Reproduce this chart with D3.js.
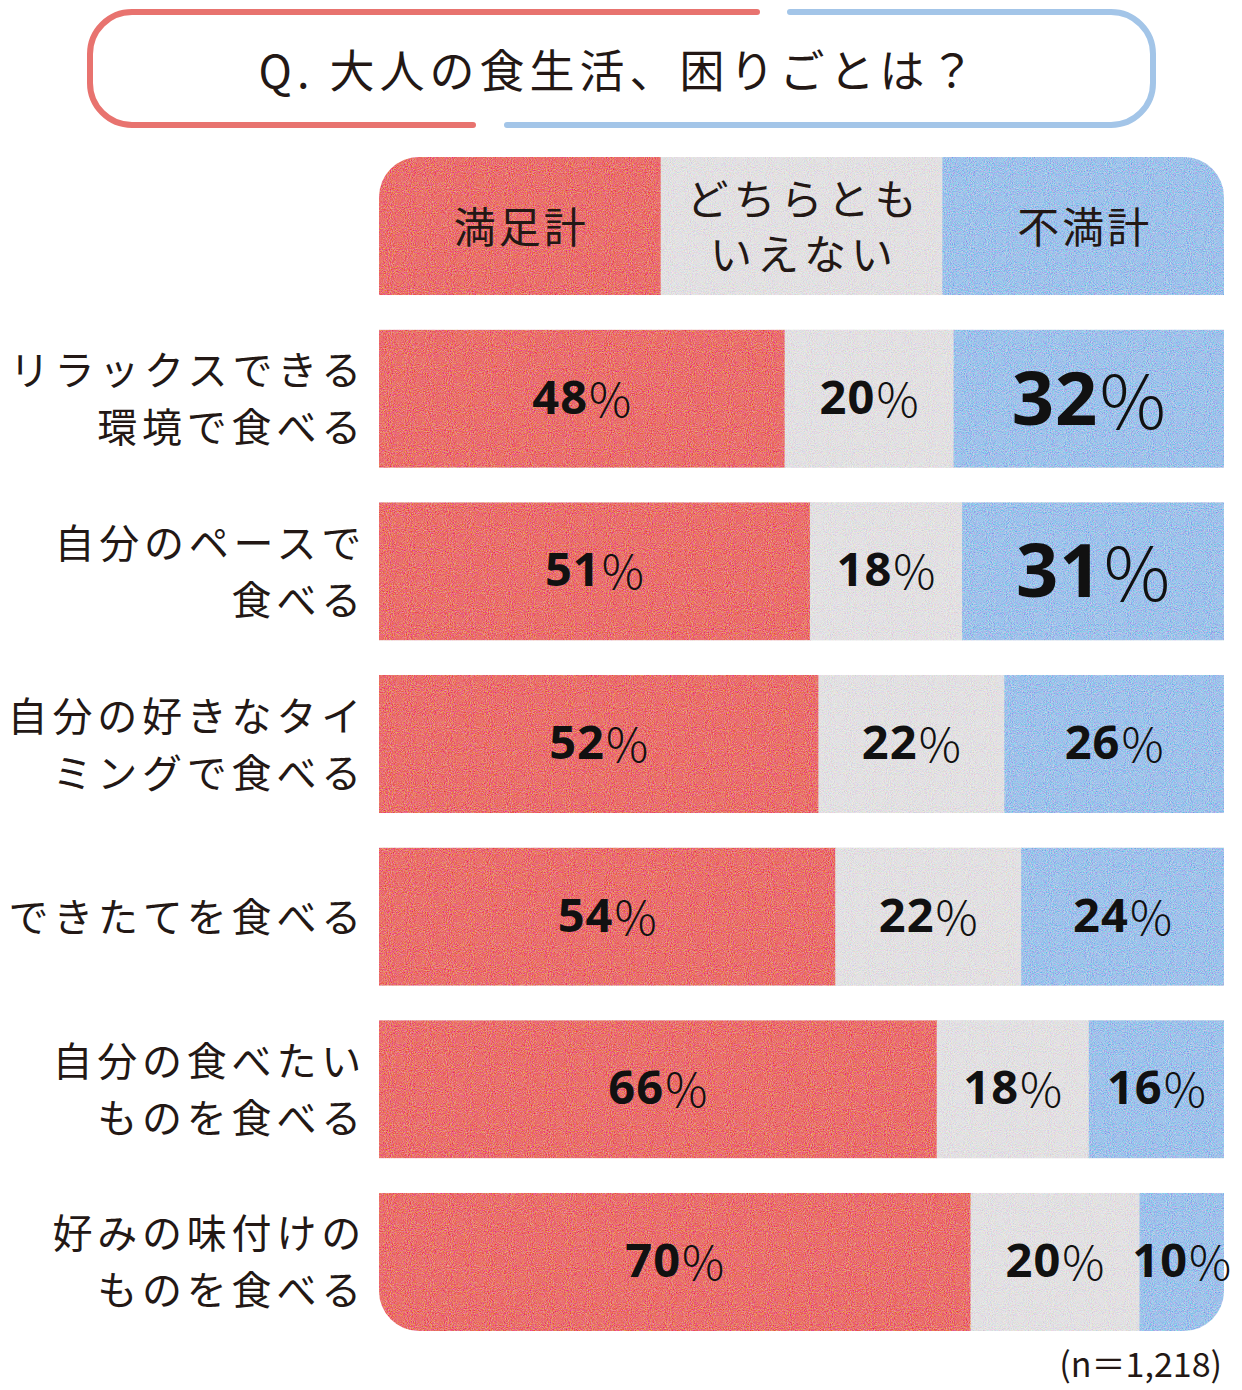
<!DOCTYPE html>
<html><head><meta charset="utf-8">
<script src="https://cdn.jsdelivr.net/npm/d3@7"></script>
<style>
html,body{margin:0;padding:0;background:#fff;}
svg{display:block;}
</style></head>
<body>
<script>
const title = "Q. 大人の食生活、困りごとは？";
const seriesNames = [["満足計"], ["どちらとも","いえない"], ["不満計"]];
const categories = ["リラックスできる環境で食べる","自分のペースで食べる","自分の好きなタイミングで食べる","できたてを食べる","自分の食べたいものを食べる","好みの味付けのものを食べる"];
const categoryLines = [["リラックスできる","環境で食べる"],["自分のペースで","食べる"],["自分の好きなタイ","ミングで食べる"],["できたてを食べる"],["自分の食べたい","ものを食べる"],["好みの味付けの","ものを食べる"]];
const satisfied = [48,51,52,54,66,70];
const neutral = [20,18,22,22,18,20];
const dissatisfied = [32,31,26,24,16,10];
const emphasized = [true,true,false,false,false,false];
const note = "(n＝1,218)";

const W=1242,H=1390;
const colors=["#ea6e6b","#e3e1e3","#9fc3eb"];
const ink="#231815";
const jp="'Noto Sans CJK JP','Noto Sans',sans-serif";
const num="'Noto Sans','DejaVu Sans',sans-serif";

const svg=d3.select("body").append("svg").attr("width",W).attr("height",H);
const defs=svg.append("defs");
const f=defs.append("filter").attr("id","grain").attr("x",0).attr("y",0).attr("width","100%").attr("height","100%");
f.append("feTurbulence").attr("type","fractalNoise").attr("baseFrequency",0.95).attr("numOctaves",2).attr("seed",7).attr("result","n");
f.append("feColorMatrix").attr("in","n").attr("type","matrix")
 .attr("values","1 0 0 0 0  0 1 0 0 0  0 0 1 0 0  0 0 0 0 1").attr("result","nc");
const ct=f.append("feComponentTransfer").attr("in","nc").attr("result","nk");
["feFuncR","feFuncG","feFuncB"].forEach(fn=>ct.append(fn).attr("type","linear").attr("slope",1.7).attr("intercept",-0.35));
f.append("feComposite").attr("in","nk").attr("in2","SourceGraphic").attr("operator","in").attr("result","nm");
f.append("feBlend").attr("in","nm").attr("in2","SourceGraphic").attr("mode","soft-light").attr("result","b");
f.append("feComposite").attr("in","b").attr("in2","SourceGraphic").attr("operator","in");

// title box
const bx0=90,bx1=1153,by0=12,by1=125,r=42;
svg.append("path").attr("fill","none").attr("stroke","#e8736f").attr("stroke-width",6).attr("stroke-linecap","round")
 .attr("d",`M757,${by0} H${bx0+r} A${r},${r} 0 0 0 ${bx0},${by0+r} V${by1-r} A${r},${r} 0 0 0 ${bx0+r},${by1} H473`);
svg.append("path").attr("fill","none").attr("stroke","#a3c5e8").attr("stroke-width",6).attr("stroke-linecap","round")
 .attr("d",`M790,${by0} H${bx1-r} A${r},${r} 0 0 1 ${bx1},${by0+r} V${by1-r} A${r},${r} 0 0 1 ${bx1-r},${by1} H507`);
svg.append("text").attr("x",619).attr("y",68).attr("text-anchor","middle").attr("dominant-baseline","central")
 .attr("font-family",jp).attr("font-size",45).attr("letter-spacing",5).attr("fill",ink).text(title);

// scales
const rows=["header",...categories];
const x=d3.scaleLinear().domain([0,100]).range([379,1224]);
const y=d3.scaleBand().domain(rows).range([157,1331]).paddingInner(0.2);
const bw=y.bandwidth();

defs.append("clipPath").attr("id","chartclip").append("rect")
 .attr("x",x(0)).attr("y",y("header")).attr("width",x(100)-x(0)).attr("height",y(categories[5])+bw-y("header")).attr("rx",40).attr("ry",40);

const g=svg.append("g").attr("clip-path","url(#chartclip)");
const gm=g.append("g").attr("filter","url(#grain)");

// header
const hx=d3.scaleBand().domain(d3.range(3)).range([x(0),x(100)]);
gm.selectAll("rect.h").data(d3.range(3)).join("rect").attr("class","h")
 .attr("x",d=>hx(d)).attr("width",hx.bandwidth()+0.5).attr("y",y("header")).attr("height",bw).attr("fill",d=>colors[d]);

// bars
const stackData=categories.map((c,i)=>({cat:c,vals:[satisfied[i],neutral[i],dissatisfied[i]]}));
const segs=[];
stackData.forEach((d,i)=>{let acc=0;d.vals.forEach((v,k)=>{segs.push({cat:d.cat,i,k,v,x0:acc,x1:acc+v});acc+=v;});});
gm.selectAll("rect.b").data(segs).join("rect").attr("class","b")
 .attr("x",d=>x(d.x0)).attr("width",d=>x(d.x1)-x(d.x0)+(d.k<2?0.5:0)).attr("y",d=>y(d.cat)).attr("height",bw).attr("fill",d=>colors[d.k]);

// header text
svg.selectAll("g.ht").data(seriesNames).join("g").attr("class","ht").each(function(lines,k){
  const cx=hx(k)+hx.bandwidth()/2, cy=y("header")+bw/2-2;
  const t=d3.select(this).append("text").attr("text-anchor","middle").attr("font-family",jp).attr("font-size",42)
   .attr("letter-spacing",k===1?5:3).attr("fill",ink);
  lines.forEach((ln,j)=>{t.append("tspan").attr("x",cx+(k===1?2.5:1.5)).attr("y",cy+(j-(lines.length-1)/2)*55).attr("dominant-baseline","central").text(ln);});
});

// value labels
svg.selectAll("text.v").data(segs).join("text").attr("class","v")
 .attr("x",d=>(x(d.x0)+x(d.x1))/2).attr("y",d=>y(d.cat)+bw/2-3)
 .attr("text-anchor","middle").attr("dominant-baseline","central").attr("fill","#111")
 .attr("font-family",num).attr("font-size",d=>(d.k===2&&emphasized[d.i])?74:47)
 .each(function(d){
   const t=d3.select(this);
   t.append("tspan").attr("font-weight",700).attr("letter-spacing",1).text(d.v);
   t.append("tspan").attr("font-weight",300).attr("font-family","'Noto Sans CJK JP',sans-serif").attr("dx",1).text("%");
 });

// category labels
svg.selectAll("text.c").data(categories).join("text").attr("class","c")
 .attr("text-anchor","end").attr("font-family",jp).attr("font-size",40).attr("letter-spacing",4.8).attr("fill",ink)
 .each(function(c,i){
   const t=d3.select(this), lines=categoryLines[i], cy=y(c)+bw/2-2;
   lines.forEach((ln,j)=>{t.append("tspan").attr("x",366).attr("y",cy+(j-(lines.length-1)/2)*57).attr("dominant-baseline","central").text(ln);});
 });

svg.append("text").attr("x",1222).attr("y",1362).attr("text-anchor","end").attr("dominant-baseline","central")
 .attr("font-family",jp).attr("font-size",34).attr("fill",ink).text(note);
</script>
</body></html>
